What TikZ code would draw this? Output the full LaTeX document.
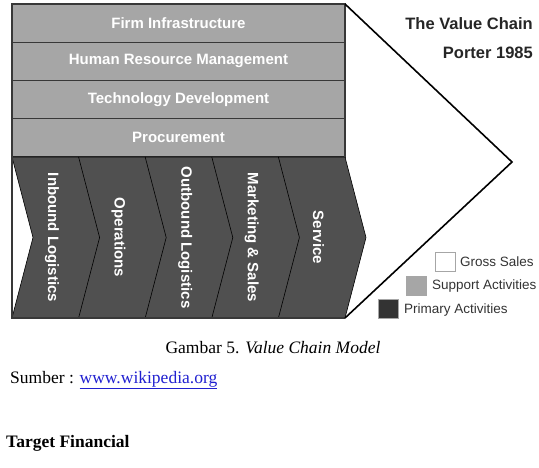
\documentclass[tikz,border=0pt]{standalone}
\usepackage{fontspec}
\setmainfont{Liberation Serif}
\newfontfamily\arialfont{Liberation Sans}
\usepackage{xcolor}
\usepackage{tikz}
\definecolor{supportgray}{HTML}{A6A6A6}
\definecolor{primarygray}{HTML}{505050}
\definecolor{framegray}{HTML}{383838}
\definecolor{linkblue}{HTML}{2020D0}

\begin{document}
\begin{tikzpicture}[x=1pt,y=-1pt,
    supportlabel/.style={text=white,font=\arialfont\bfseries\fontsize{15}{18}\selectfont},
    primarylabel/.style={text=white,rotate=-90,font=\arialfont\bfseries\fontsize{15}{18}\selectfont},
    legendbox/.style={draw=gray!70,minimum width=20pt,minimum height=19pt,inner sep=0pt},
    legendtext/.style={anchor=west,inner sep=0pt,text=black!80,font=\arialfont\fontsize{13.5}{16}\selectfont},
    titletext/.style={anchor=east,inner sep=0pt,text=black!85,font=\arialfont\bfseries\fontsize{16.5}{20}\selectfont}]
    \useasboundingbox (0,0) rectangle (539,467);
    \def\xl{12}
    \def\xr{345}
    \def\yt{4}
    \def\ym{157}
    \def\yb{318}
    \def\rowh{38.25}
    \def\colw{66.6}
    \def\tip{21}

    \foreach [count=\row from 0] \name/\txt in {infra/Firm Infrastructure,hrm/Human Resource Management,tech/Technology Development,proc/Procurement} {
        \fill[supportgray] (\xl,{\yt+\row*\rowh}) rectangle ++({\xr-\xl},\rowh);
        \draw[framegray,line width=1.4pt] (\xl,{\yt+\row*\rowh}) rectangle ++({\xr-\xl},\rowh);
        \node[supportlabel] (\name) at ({(\xl+\xr)/2},{\yt+(\row+0.5)*\rowh}) {\txt};
    }

    \filldraw[fill=primarygray,draw=black,line width=0.6pt]
        (\xl,\ym) -- (\xr,\ym) -- ({\xr+\tip},{(\ym+\yb)/2}) -- (\xr,\yb)
        -- (\xl,\yb) -- ({\xl+\tip},{(\ym+\yb)/2}) -- cycle;
    \foreach \i in {1,...,4} {
        \draw[line width=0.6pt] ({\xl+\i*\colw},\ym)
            -- ({\xl+\i*\colw+\tip},{(\ym+\yb)/2}) -- ({\xl+\i*\colw},\yb);
    }
    \foreach [count=\col from 0] \name/\txt in {inbound/Inbound Logistics,ops/Operations,outbound/Outbound Logistics,marketing/Marketing \& Sales,service/Service} {
        \node[primarylabel] (\name) at ({\xl+\col*\colw+40},{(\ym+\yb)/2}) {\txt};
    }

    \draw[framegray,line width=2pt] (\xr,\ym) -- (\xr,\yt) -- (\xl,\yt) -- (\xl,\yb) -- (\xr,\yb);
    \coordinate (frameNE) at (\xr,\yt);
    \coordinate (apex) at (512,162);
    \coordinate (frameSE) at (\xr,\yb);
    \draw[black,line width=1.6pt,line join=miter] (frameNE) -- (apex) -- (frameSE);

    \node[titletext] (title) at (533,24) {The Value Chain};
    \node[titletext] (year) at (533,53) {Porter 1985};

    \node[legendbox,fill=white] (grossbox) at (445,261.5) {};
    \node[legendtext] (grosstext) at (460,262) {Gross Sales};
    \node[legendbox,fill=supportgray] (supportbox) at (416,285.5) {};
    \node[legendtext] (supporttext) at (432,286) {Support Activities};
    \node[legendbox,fill=black!80] (primarybox) at (388,309) {};
    \node[legendtext] (primarytext) at (404,310) {Primary Activities};

    \node[font=\fontsize{17.5}{21}\selectfont] (caption) at (273,348) {Gambar 5. \textit{Value Chain Model}};
    \node[anchor=west,inner sep=0pt,font=\fontsize{17.5}{21}\selectfont] (source) at (10,380)
        {Sumber : \textcolor{linkblue}{\underline{www.wikipedia.org}}};
    \node[anchor=west,inner sep=0pt,font=\bfseries\fontsize{17.5}{21}\selectfont] (target) at (6,443) {Target Financial};
\end{tikzpicture}
\end{document}
